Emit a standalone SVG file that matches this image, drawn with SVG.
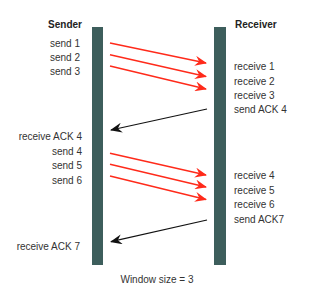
<svg xmlns="http://www.w3.org/2000/svg" width="320" height="295" viewBox="0 0 320 295">
<style>
text{font-family:"Liberation Sans",Arial,sans-serif;font-size:10px;fill:#333}
.b{font-weight:bold;fill:#222}
.e{text-anchor:end}
.bar{fill:#3d5e5c}
.red{stroke:#ff2a1a;stroke-width:1.4;fill:none}
.blk{stroke:#111;stroke-width:1.2;fill:none}
</style>
<defs>
<marker id="ar" viewBox="0 0 12 10" refX="11" refY="5" markerWidth="12" markerHeight="10" markerUnits="userSpaceOnUse" orient="auto"><path d="M0,0 L12,5 L0,10 L4,5 z" fill="#ff2a1a"/></marker>
<marker id="ab" viewBox="0 0 12 10" refX="11" refY="5" markerWidth="12" markerHeight="10" markerUnits="userSpaceOnUse" orient="auto"><path d="M0,0 L12,5 L0,10 L4,5 z" fill="#111"/></marker>
</defs>
<rect width="320" height="295" fill="#fff"/>
<g id="sender">
<rect class="bar" x="92" y="27" width="11" height="238"/>
<text class="b e" x="82" y="28">Sender</text>
<text class="e" x="80" y="47">send 1</text>
<text class="e" x="80" y="61">send 2</text>
<text class="e" x="80" y="75">send 3</text>
<text class="e" x="82" y="140">receive ACK 4</text>
<text class="e" x="82" y="155">send 4</text>
<text class="e" x="82" y="169">send 5</text>
<text class="e" x="82" y="184">send 6</text>
<text class="e" x="80" y="250">receive ACK 7</text>
</g>
<g id="receiver">
<rect class="bar" x="214" y="27" width="12" height="238"/>
<text class="b" x="235" y="28">Receiver</text>
<text x="234" y="70">receive 1</text>
<text x="234" y="84.5">receive 2</text>
<text x="234" y="99">receive 3</text>
<text x="234" y="113">send ACK 4</text>
<text x="234" y="179">receive 4</text>
<text x="234" y="194">receive 5</text>
<text x="234" y="208">receive 6</text>
<text x="234" y="223">send ACK7</text>
</g>
<g id="connectors">
<line class="red" x1="110" y1="43" x2="206" y2="63" marker-end="url(#ar)"/>
<line class="red" x1="110" y1="54.7" x2="206" y2="76.5" marker-end="url(#ar)"/>
<line class="red" x1="110" y1="66" x2="206" y2="89" marker-end="url(#ar)"/>
<line class="blk" x1="207" y1="109" x2="111" y2="130" marker-end="url(#ab)"/>
<line class="red" x1="110" y1="153.3" x2="206" y2="175" marker-end="url(#ar)"/>
<line class="red" x1="110" y1="164.3" x2="206" y2="187" marker-end="url(#ar)"/>
<line class="red" x1="110" y1="176" x2="206" y2="199.5" marker-end="url(#ar)"/>
<line class="blk" x1="207" y1="220" x2="111" y2="241.7" marker-end="url(#ab)"/>
</g>
<text x="157" y="283" text-anchor="middle">Window size = 3</text>
</svg>
